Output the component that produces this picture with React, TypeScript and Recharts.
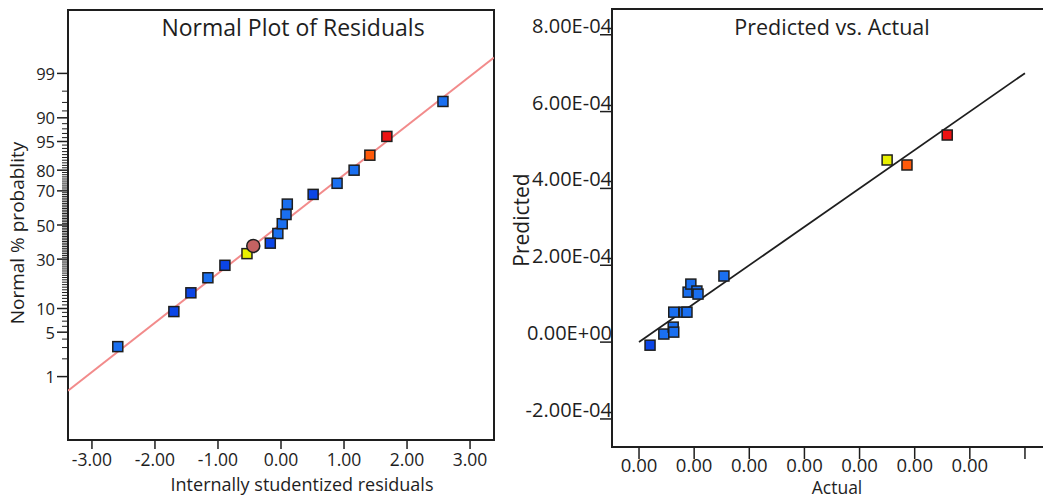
import React from 'react';
import { ScatterChart, Scatter, XAxis, YAxis, ReferenceArea } from 'recharts';

// Normal plot of residuals: residual vs normal % probability
const residualsLight = [-2.59, -1.16, -0.05, 0.02, 0.08, 0.1, 0.89, 1.16, 2.57];
const probLight = [3.1, 20.9, 44.8, 50.8, 56.4, 62.6, 73.9, 80.0, 97.1];
const residualsDark = [-1.7, -1.43, -0.89, -0.17, 0.51];
const probDark = [9.2, 14.9, 26.8, 39.0, 68.1];
const residualsYellow = [-0.54];
const probYellow = [33.0];
const residualsCircle = [-0.44];
const probCircle = [37.4];
const residualsOrange = [1.41];
const probOrange = [85.8];
const residualsRed = [1.68];
const probRed = [91.3];
const fitResiduals = [-3.38, 3.38];
const fitProb = [0.55, 99.49];

const residualTicks = [-3, -2, -1, 0, 1, 2, 3];
const residualTickLabels = ['-3.00', '-2.00', '-1.00', '0.00', '1.00', '2.00', '3.00'];
// the labels 90 / 95 are swapped in the original figure
const probMajorTicks = [1, 5, 10, 30, 50, 70, 80, 90, 95, 99];
const probMajorLabels = ['1', '5', '10', '30', '50', '70', '80', '95', '90', '99'];

// Predicted vs. actual
const actualLight = [0.45e-4, 0.62e-4, 0.63e-4, 0.63e-4, 0.82e-4, 0.87e-4, 0.89e-4, 0.94e-4, 1.05e-4, 1.07e-4, 1.54e-4];
const predictedLight = [0.21e-4, 0.39e-4, 0.26e-4, 0.78e-4, 0.78e-4, 0.78e-4, 1.3e-4, 1.51e-4, 1.33e-4, 1.25e-4, 1.72e-4];
const actualDark = [0.2e-4];
const predictedDark = [-0.08e-4];
const actualYellow = [4.5e-4];
const predictedYellow = [4.74e-4];
const actualOrange = [4.86e-4];
const predictedOrange = [4.61e-4];
const actualRed = [5.59e-4];
const predictedRed = [5.39e-4];
const diagActual = [0, 7e-4];
const diagPredicted = [0, 7e-4];

const actualTicks = [0, 1e-4, 2e-4, 3e-4, 4e-4, 5e-4, 6e-4, 7e-4];
const actualTickLabels = ['0.00', '0.00', '0.00', '0.00', '0.00', '0.00', '0.00', ''];
const predictedTicks = [-2e-4, 0, 2e-4, 4e-4, 6e-4, 8e-4];
const predictedTickLabels = ['-2.00E-04', '0.00E+00', '2.00E-04', '4.00E-04', '6.00E-04', '8.00E-04'];

const FONT = '"Open Sans", sans-serif';
const INK = '#1e1e1e';
const LIGHT_BLUE = '#1a6ff0';
const DARK_BLUE = '#0b45e6';
const YELLOW = '#e8f000';
const ORANGE = '#ff5a0a';
const RED = '#ee1111';
const ROSE = '#c46262';

// inverse normal cdf (Abramowitz & Stegun 26.2.23), used for the probability scale
function probit(p: number): number {
  const q = p < 0.5 ? p : 1 - p;
  const t = Math.sqrt(-2 * Math.log(q));
  const z = t - (2.515517 + 0.802853 * t + 0.010328 * t * t) /
    (1 + 1.432788 * t + 0.189269 * t * t + 0.001308 * t * t * t);
  return p < 0.5 ? -z : z;
}

const toPoints = (xs: number[], ys: number[]) => xs.map((x, i) => ({ x, y: ys[i] }));
const toProbPoints = (xs: number[], ps: number[]) => xs.map((x, i) => ({ x, y: probit(ps[i] / 100) }));

const minorProbTicks: number[] = [];
for (let p = 2; p <= 98; p++) if (!probMajorTicks.includes(p)) minorProbTicks.push(p);
const probTickValues = [...probMajorTicks, ...minorProbTicks].map((p) => probit(p / 100));

const square = (fill: string) => (props: any) => (
  <rect x={props.cx - 5} y={props.cy - 5} width={10} height={10} fill={fill} stroke={INK} strokeWidth={1.5} />
);
const dot = (fill: string) => (props: any) => (
  <circle cx={props.cx} cy={props.cy} r={6.5} fill={fill} stroke={INK} strokeWidth={1.5} />
);
const noShape = () => <g />;

const ProbTick = (props: any) => {
  const { x, y, index } = props;
  if (index >= probMajorTicks.length) {
    return <line x1={x - 6} x2={x} y1={y} y2={y} stroke={INK} strokeWidth={1} />;
  }
  return (
    <g>
      <line x1={x - 11} x2={x} y1={y} y2={y} stroke={INK} strokeWidth={1.5} />
      <text x={x - 13} y={y} textAnchor="end" dominantBaseline="central" fontSize={16.5} fill={INK} fontFamily={FONT}>
        {probMajorLabels[index]}
      </text>
    </g>
  );
};

const SciTick = (props: any) => {
  const { x, y, index } = props;
  return (
    <g>
      <line x1={x - 12} x2={x} y1={y} y2={y} stroke={INK} strokeWidth={1.5} />
      <text x={x} y={y - 2} textAnchor="end" fontSize={20} fill={INK} fontFamily={FONT}>
        {predictedTickLabels[index]}
      </text>
    </g>
  );
};

const textStyle = (left: number, top: number, size: number, rotate = 0): React.CSSProperties => ({
  position: 'absolute',
  left,
  top,
  transform: `translate(-50%, -50%) rotate(${rotate}deg)`,
  fontSize: size,
  lineHeight: 1,
  whiteSpace: 'nowrap',
  color: INK,
});

const NormalPlot = () => (
  <ScatterChart width={520} height={499} margin={{ top: 10, right: 26, bottom: 0, left: 0 }}>
    <XAxis
      type="number"
      dataKey="x"
      domain={[-3.38, 3.38]}
      allowDataOverflow
      ticks={residualTicks}
      interval={0}
      tickFormatter={(_v: number, i: number) => residualTickLabels[i]}
      height={59}
      axisLine={false}
      tickSize={9}
      tickMargin={5}
      tickLine={{ stroke: INK, strokeWidth: 1.5 }}
      tick={{ fontSize: 17.5, fill: INK }}
    />
    <YAxis
      type="number"
      dataKey="y"
      domain={[-3.3, 3.3]}
      allowDataOverflow
      ticks={probTickValues}
      interval={0}
      width={68}
      axisLine={false}
      tickLine={false}
      tickSize={0}
      tickMargin={0}
      tick={<ProbTick />}
    />
    <ReferenceArea x1={-3.38} x2={3.38} y1={-3.3} y2={3.3} fill="none" stroke={INK} strokeWidth={2} />
    <Scatter data={toProbPoints(fitResiduals, fitProb)} line={{ stroke: '#f28b8b', strokeWidth: 2 }} shape={noShape} isAnimationActive={false} />
    <Scatter data={toProbPoints(residualsLight, probLight)} shape={square(LIGHT_BLUE)} isAnimationActive={false} />
    <Scatter data={toProbPoints(residualsDark, probDark)} shape={square(DARK_BLUE)} isAnimationActive={false} />
    <Scatter data={toProbPoints(residualsYellow, probYellow)} shape={square(YELLOW)} isAnimationActive={false} />
    <Scatter data={toProbPoints(residualsCircle, probCircle)} shape={dot(ROSE)} isAnimationActive={false} />
    <Scatter data={toProbPoints(residualsOrange, probOrange)} shape={square(ORANGE)} isAnimationActive={false} />
    <Scatter data={toProbPoints(residualsRed, probRed)} shape={square(RED)} isAnimationActive={false} />
  </ScatterChart>
);

const PredictedPlot = () => (
  <ScatterChart width={560} height={499} margin={{ top: 9, right: 10, bottom: 0, left: 0 }}>
    <XAxis
      type="number"
      dataKey="x"
      domain={[-0.49e-4, 7.454e-4]}
      allowDataOverflow
      ticks={actualTicks}
      interval={0}
      tickFormatter={(_v: number, i: number) => actualTickLabels[i]}
      height={52}
      axisLine={false}
      tickSize={12}
      tickMargin={0}
      tickLine={{ stroke: INK, strokeWidth: 1.5 }}
      tick={{ fontSize: 18.5, fill: INK }}
    />
    <YAxis
      type="number"
      dataKey="y"
      domain={[-2.73e-4, 8.67e-4]}
      allowDataOverflow
      ticks={predictedTicks}
      interval={0}
      width={112}
      axisLine={false}
      tickLine={false}
      tickSize={0}
      tickMargin={0}
      tick={<SciTick />}
    />
    <ReferenceArea x1={-0.49e-4} x2={7.454e-4} y1={-2.73e-4} y2={8.67e-4} fill="none" stroke={INK} strokeWidth={2} />
    <Scatter data={toPoints(diagActual, diagPredicted)} line={{ stroke: INK, strokeWidth: 1.8 }} shape={noShape} isAnimationActive={false} />
    <Scatter data={toPoints(actualDark, predictedDark)} shape={square(DARK_BLUE)} isAnimationActive={false} />
    <Scatter data={toPoints(actualLight, predictedLight)} shape={square(LIGHT_BLUE)} isAnimationActive={false} />
    <Scatter data={toPoints(actualYellow, predictedYellow)} shape={square(YELLOW)} isAnimationActive={false} />
    <Scatter data={toPoints(actualOrange, predictedOrange)} shape={square(ORANGE)} isAnimationActive={false} />
    <Scatter data={toPoints(actualRed, predictedRed)} shape={square(RED)} isAnimationActive={false} />
  </ScatterChart>
);

export default function App() {
  return (
    <div style={{ position: 'absolute', left: 0, top: 0, width: 1043, height: 499, overflow: 'hidden', background: '#fff', fontFamily: FONT }}>
      <div style={{ position: 'absolute', left: 0, top: 0 }}>
        <NormalPlot />
      </div>
      <div style={{ position: 'absolute', left: 500, top: 0 }}>
        <PredictedPlot />
      </div>
      <div style={textStyle(293, 27, 23)}>Normal Plot of Residuals</div>
      <div style={textStyle(302, 484, 18)}>Internally studentized residuals</div>
      <div style={textStyle(17, 233, 19, -90)}>Normal % probablity</div>
      <div style={textStyle(832, 27, 21.5)}>Predicted vs. Actual</div>
      <div style={textStyle(521, 220, 21, -90)}>Predicted</div>
      <div style={textStyle(837, 488, 17.5)}>Actual</div>
    </div>
  );
}
